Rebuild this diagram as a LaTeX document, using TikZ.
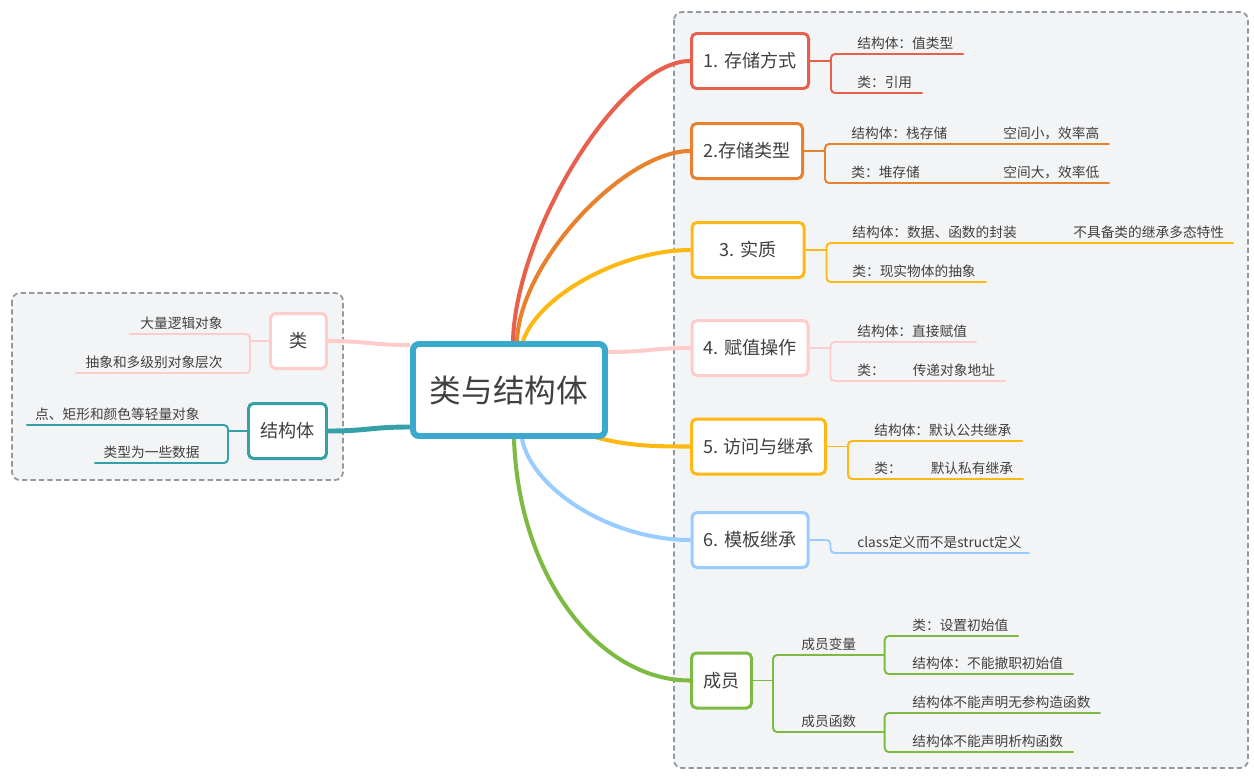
\documentclass[tikz,border=0pt]{standalone}
\usepackage{fontspec}
\setmainfont{Noto Sans CJK SC}
\usetikzlibrary{positioning,calc}
\definecolor{mapText}{HTML}{404040}
\definecolor{mapRoot}{HTML}{3AA8CF}
\definecolor{mapRed}{HTML}{E8604C}
\definecolor{mapOrange}{HTML}{E8812D}
\definecolor{mapYellow}{HTML}{FDB813}
\definecolor{mapPink}{HTML}{FFCCCC}
\definecolor{mapBlue}{HTML}{9ACDFF}
\definecolor{mapGreen}{HTML}{7DBA42}
\definecolor{mapTeal}{HTML}{35A0A8}
\definecolor{mapFrame}{HTML}{9397A0}
\definecolor{mapPanel}{HTML}{F3F4F6}
\newdimen\pxu \pxu=0.02cm
\pgfdeclarelayer{frame}
\pgfdeclarelayer{edges}
\pgfsetlayers{frame,edges,main}
\tikzset{
    mainTopic/.style={
        draw=mapRoot,
        fill=white,
        line width=3.4pt,
        rounded corners=6\pxu,
        minimum width=192\pxu,
        minimum height=92\pxu,
        font=\fontsize{18}{22}\selectfont,
        text=mapText
    },
    subTopic/.style={
        draw,
        fill=white,
        line width=1.7pt,
        rounded corners=5\pxu,
        minimum height=55\pxu,
        inner sep=0pt,
        font=\fontsize{10.3}{12}\selectfont,
        text=mapText
    },
    leafText/.style={
        anchor=south west,
        align=left,
        inner xsep=0pt,
        inner ysep=5\pxu,
        text depth=0pt,
        font=\fontsize{7.8}{9}\selectfont,
        text=mapText
    },
    leafTextL/.style={leafText, anchor=south east, align=right},
    % Lines
    branchLine/.style={line width=2.3pt},
    twigLine/.style={line width=1.1pt, rounded corners=4\pxu},
    panelBox/.style={fill=mapPanel, draw=mapFrame, line width=1pt, dash pattern=on 3pt off 1.8pt, rounded corners=8\pxu}
}
\begin{document}
\begin{tikzpicture}[x=0.02cm, y=-0.02cm]
    \begin{pgfonlayer}{frame}
        \fill[white] (0,0) rectangle (1254,782);
        \draw[panelBox] (674,12) rectangle (1248,768);
        \draw[panelBox] (12,293) rectangle (343,480);
    \end{pgfonlayer}
    \useasboundingbox (0,0) rectangle (1254,782);

    \node[mainTopic] (root) at (509,390) {类与结构体};

    \node[subTopic, draw=mapRed, minimum width=117\pxu] (store) at (750,61) {1. 存储方式};
    \node[subTopic, draw=mapOrange, minimum width=111\pxu] (kind) at (747,151) {2.存储类型};
    \node[subTopic, draw=mapYellow, minimum width=112\pxu] (essence) at (748,250) {3. 实质};
    \node[subTopic, draw=mapPink, minimum width=116\pxu] (assign) at (750,348) {4. 赋值操作};
    \node[subTopic, draw=mapYellow, minimum width=134\pxu] (access) at (758.5,446.5) {5. 访问与继承};
    \node[subTopic, draw=mapBlue, minimum width=116\pxu] (tmpl) at (750,540) {6. 模板继承};
    \node[subTopic, draw=mapGreen, minimum width=60\pxu] (member) at (721.5,680.5) {成员};
    \node[subTopic, draw=mapPink, minimum width=56\pxu] (cls) at (298.5,341) {类};
    \node[subTopic, draw=mapTeal, minimum width=78\pxu] (stc) at (287.5,431) {结构体};

    \node[leafText, text width=106\pxu] (store1) at (857,54) {结构体：值类型};
    \node[leafText, text width=65\pxu] (store2) at (857,93) {类：引用};

    \node[leafText] (kind1) at (851,144) {结构体：栈存储};
    \node[leafText, text width=106\pxu] (kind1r) at (1003,144) {空间小，效率高};
    \node[leafText] (kind2) at (851,183) {类：堆存储};
    \node[leafText, text width=106\pxu] (kind2r) at (1003,183) {空间大，效率低};

    \node[leafText] (essence1) at (852,243) {结构体：数据、函数的封装};
    \node[leafText, text width=160\pxu] (essence1r) at (1073,243) {不具备类的继承多态特性};
    \node[leafText, text width=134\pxu] (essence2) at (852,282) {类：现实物体的抽象};

    \node[leafText, text width=119\pxu] (assign1) at (857,342) {结构体：直接赋值};
    \node[leafText, text width=148\pxu] (assign2) at (857,381) {类：\hspace{28\pxu}传递对象地址};

    \node[leafText, text width=148\pxu] (access1) at (874,441) {结构体：默认公共继承};
    \node[leafText, text width=149\pxu] (access2) at (874,479) {类：\hspace{29\pxu}默认私有继承};

    \node[leafText, text width=172\pxu] (tmpl1) at (857,553) {class定义而不是struct定义};

    \node[leafText, text width=83\pxu] (mvar) at (801,655) {成员变量};
    \node[leafText, text width=83\pxu] (mfun) at (801,732) {成员函数};
    \node[leafText, text width=106\pxu] (mvar1) at (912,636) {类：设置初始值};
    \node[leafText, text width=161\pxu] (mvar2) at (912,674) {结构体：不能撤职初始值};
    \node[leafText, text width=188\pxu] (mfun1) at (912,713) {结构体不能声明无参构造函数};
    \node[leafText, text width=161\pxu] (mfun2) at (912,752) {结构体不能声明析构函数};

    \node[leafTextL, text width=93\pxu] (cls1) at (223,334) {大量逻辑对象};
    \node[leafTextL, text width=147\pxu] (cls2) at (223,373) {抽象和多级别对象层次};
    \node[leafTextL, text width=173\pxu] (stc1) at (200,425) {点、矩形和颜色等轻量对象};
    \node[leafTextL, text width=105\pxu] (stc2) at (200,463) {类型为一些数据};

    \begin{pgfonlayer}{edges}
        \draw[branchLine, mapRed] ([xshift=4\pxu]root.north) .. controls +(3,-110) and +(-70,0) .. (store.west);
        \draw[branchLine, mapOrange] ([xshift=8\pxu]root.north) .. controls +(3,-80) and +(-65,0) .. (kind.west);
        \draw[branchLine, mapYellow] ([xshift=14\pxu]root.north) .. controls +(15,-45) and +(-70,0) .. (essence.west);
        \draw[branchLine, mapPink] ([yshift=38\pxu]root.east) .. controls +(40,0) and +(-40,0) .. (assign.west);
        \draw[branchLine, mapYellow] ([xshift=-24\pxu,yshift=5\pxu]root.south east) .. controls +(40,12) and +(-40,0) .. (access.west);
        \draw[branchLine, mapBlue] ([xshift=13\pxu]root.south) .. controls +(10,50) and +(-80,0) .. (tmpl.west);
        \draw[branchLine, mapGreen] ([xshift=5\pxu]root.south) .. controls +(5,140) and +(-90,0) .. (member.west);
        \draw[branchLine, mapPink] ([yshift=45\pxu]root.west) .. controls +(-40,0) and +(40,0) .. (cls.east);
        \draw[branchLine, mapTeal, line width=2.8pt] ([yshift=-37\pxu]root.west) .. controls +(-40,0) and +(40,0) .. (stc.east);

        \draw[twigLine, mapRed] (store.east) -- ++(21,0) coordinate (storeJ);
        \draw[twigLine, mapRed] (store1.south east) -- (storeJ |- store1.south) -- (storeJ |- store2.south) -- (store2.south east);
        \draw[twigLine, mapOrange] (kind.east) -- ++(21,0) coordinate (kindJ);
        \draw[twigLine, mapOrange] (kind1r.south east) -- (kindJ |- kind1.south) -- (kindJ |- kind2.south) -- (kind2r.south east);
        \draw[twigLine, mapYellow] (essence.east) -- ++(21,0) coordinate (essenceJ);
        \draw[twigLine, mapYellow] (essence1r.south east) -- (essenceJ |- essence1.south) -- (essenceJ |- essence2.south) -- (essence2.south east);
        \draw[twigLine, mapPink] (assign.east) -- ++(21,0) coordinate (assignJ);
        \draw[twigLine, mapPink] (assign1.south east) -- (assignJ |- assign1.south) -- (assignJ |- assign2.south) -- (assign2.south east);
        \draw[twigLine, mapYellow] (access.east) -- ++(21,0) coordinate (accessJ);
        \draw[twigLine, mapYellow] (access1.south east) -- (accessJ |- access1.south) -- (accessJ |- access2.south) -- (access2.south east);
        \draw[twigLine, mapBlue] (tmpl.east) -- ++(21,0) |- (tmpl1.south east);
        \draw[twigLine, mapGreen] (member.east) -- ++(20,0) coordinate (memberJ);
        \draw[twigLine, mapGreen] (mvar.south east) -- (memberJ |- mvar.south) -- (memberJ |- mfun.south) -- (mfun.south east);
        \draw[twigLine, mapGreen] (mvar1.south east) -- (mvar.south east |- mvar1.south) -- (mvar.south east |- mvar2.south) -- (mvar2.south east);
        \draw[twigLine, mapGreen] (mfun1.south east) -- (mfun.south east |- mfun1.south) -- (mfun.south east |- mfun2.south) -- (mfun2.south east);
        \draw[twigLine, mapPink] (cls.west) -- ++(-19,0) coordinate (clsJ);
        \draw[twigLine, mapPink] (cls1.south west) -- (clsJ |- cls1.south) -- (clsJ |- cls2.south) -- (cls2.south west);
        \draw[twigLine, mapTeal] (stc.west) -- ++(-19,0) coordinate (stcJ);
        \draw[twigLine, mapTeal] (stc1.south west) -- (stcJ |- stc1.south) -- (stcJ |- stc2.south) -- (stc2.south west);
    \end{pgfonlayer}
\end{tikzpicture}
\end{document}
